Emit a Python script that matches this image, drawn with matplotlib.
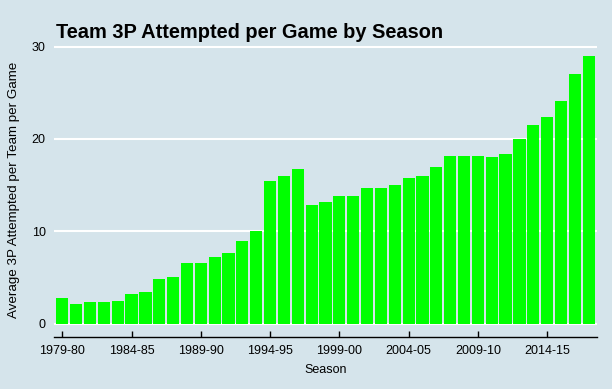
import matplotlib
matplotlib.use("Agg")
import matplotlib.pyplot as plt

plt.rcParams['font.family'] = ['Liberation Sans', 'DejaVu Sans']

# seasons 1979-80 .. 2017-18
seasons = [f"{y}-{str(y + 1)[-2:]}" for y in range(1979, 2018)]
fg3a = [2.8, 2.1, 2.3, 2.3, 2.4, 3.2, 3.4, 4.8, 5.0, 6.6,
        6.6, 7.2, 7.7, 9.0, 10.0, 15.4, 16.0, 16.8, 12.8, 13.2,
        13.8, 13.8, 14.7, 14.7, 15.0, 15.8, 16.0, 17.0, 18.2, 18.2,
        18.2, 18.1, 18.4, 20.0, 21.5, 22.4, 24.1, 27.0, 29.0]
tick_every = 5

bg = "#d5e4eb"
fig = plt.figure(figsize=(6.12, 3.89), dpi=100, facecolor=bg)
ax = fig.add_axes([54 / 612, 1 - 337 / 389, 543 / 612, (337 - 42.5) / 389])
ax.set_facecolor(bg)

x = range(len(seasons))
ax.bar(x, fg3a, width=0.88, color="#00ff00", zorder=2)

ax.set_xlim(-0.6, len(seasons) - 0.4)
ax.set_ylim(-1.45, 30.45)
ax.set_yticks([0, 10, 20, 30])
ax.yaxis.grid(True, color="white", linewidth=1.5, zorder=1)
ax.set_axisbelow(True)

ticks = list(x)[::tick_every]
ax.set_xticks(ticks)
ax.set_xticklabels([seasons[i] for i in ticks])

for s in ["top", "right", "left"]:
    ax.spines[s].set_visible(False)
ax.spines["bottom"].set_color("black")
ax.spines["bottom"].set_linewidth(1.0)

ax.tick_params(axis="x", direction="in", length=4.5, width=1.0, pad=6,
               labelsize=9, colors="black")
ax.tick_params(axis="y", length=0, pad=6, labelsize=9, colors="black")

ax.set_xlabel("Season", fontsize=9, labelpad=5)
ax.set_ylabel("Average 3P Attempted per Team per Game", fontsize=9.6)
ax.yaxis.set_label_coords(-0.063, 0.5)

fig.text(56 / 612, 1 - 38 / 389, "Team 3P Attempted per Game by Season",
         fontsize=14.4, fontweight="bold", va="baseline", ha="left")

fig.savefig("out.png", dpi=100, facecolor=bg)
